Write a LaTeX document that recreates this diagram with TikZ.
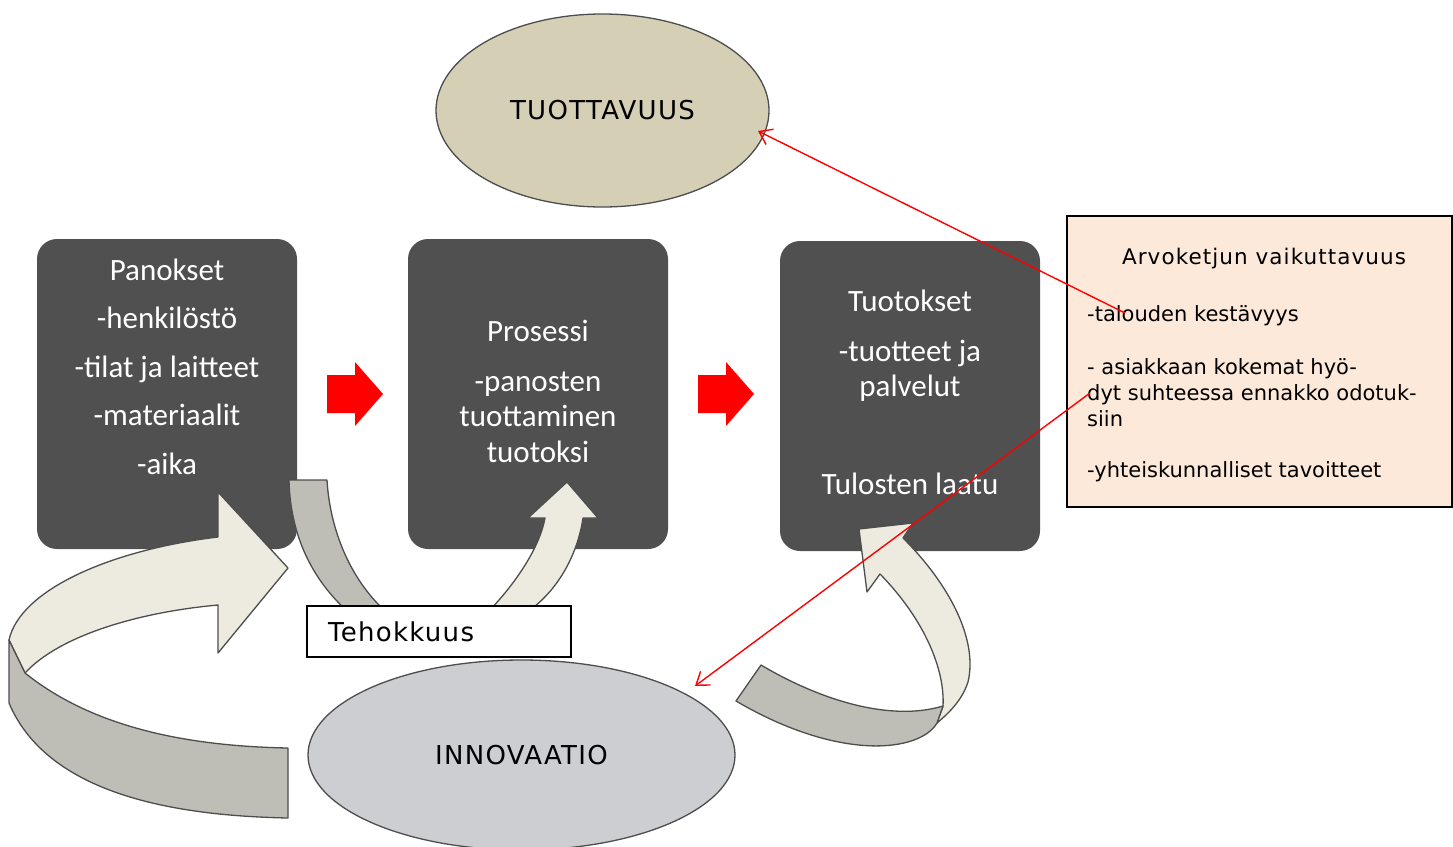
\documentclass[tikz,border=0pt]{standalone}
\usepackage{fontspec}
\setmainfont{DejaVu Sans}
\newfontfamily\boxfont{Carlito}
\newfontfamily\widefont[LetterSpace=5]{DejaVu Sans}
\usetikzlibrary{arrows.meta,shapes.geometric}

\definecolor{boxgrey}{HTML}{505050}
\definecolor{edgegrey}{HTML}{4D4D4D}
\definecolor{bandlight}{HTML}{EDEBE0}
\definecolor{banddark}{HTML}{BEBEB6}
\definecolor{tuotto}{HTML}{D5CFB6}
\definecolor{innov}{HTML}{CDCED1}
\definecolor{peach}{HTML}{FDE9D9}

\begin{document}
\begin{tikzpicture}[x=1pt,y=1pt,yscale=-1,
    darkbox/.style={fill=boxgrey,rounded corners=20pt,minimum width=260pt,minimum height=310pt,inner sep=0pt},
    boxtext/.style={text=white,align=center,inner sep=0pt,anchor=north},
    ovalnode/.style={ellipse,draw=edgegrey,line width=1.3pt,inner sep=0pt,font=\widefont\fontsize{26}{30}\selectfont},
    bandfront/.style={draw=edgegrey,line width=1.3pt,fill=bandlight,line join=round},
    bandback/.style={draw=edgegrey,line width=1.3pt,fill=banddark,line join=round},
    flowarrow/.style={fill=red},
    linkarrow/.style={red,line width=1.4pt,-{Straight Barb[length=12pt,width=17pt]}},
    listtext/.style={anchor=west,align=left,inner sep=0pt,font=\fontsize{21}{26}\selectfont}]
    \useasboundingbox (0,0) rectangle (1453,846);

    % Boxes
    \node[darkbox] (panokset) at (167,394) {};
    \node[darkbox] (prosessi) at (538,394) {};
    \node[darkbox] (tuotokset) at (910,396) {};

    % Text Node
    \node[boxtext,font=\boxfont\fontsize{31}{48.5}\selectfont] (panokset text) at (167,258.5)
        {Panokset\\-henkilöstö\\-tilat ja laitteet\\-materiaalit\\-aika};
    % Text Node
    \node[boxtext,font=\boxfont\fontsize{31}{35.5}\selectfont] (prosessi text) at (538,319.5)
        {Prosessi\\[14.5pt]-panosten\\tuottaminen\\tuotoksi};
    % Text Node
    \node[boxtext,font=\boxfont\fontsize{31}{35}\selectfont] (tuotokset text) at (910,289.5)
        {Tuotokset\\[15pt]-tuotteet ja\\palvelut\\[63pt]Tulosten laatu};

    % Ellipse
    \node[ovalnode,fill=tuotto,minimum width=333pt,minimum height=193pt] (tuottavuus) at (602.5,110.5) {TUOTTAVUUS};

    % Red block arrows
    \fill[flowarrow] (327,375) -- (355,375) -- (355,362) -- (383,394) -- (355,426) -- (355,413) -- (327,413) -- cycle;
    \fill[flowarrow] (698,375) -- (726,375) -- (726,362) -- (754,394) -- (726,426) -- (726,413) -- (698,413) -- cycle;

    % Big curved arrow, left
    \draw[bandfront] (218,537) -- (218,492) -- (288,568) -- (218,653) -- (218,605)
        .. controls (140,612) and (60,635) .. (25,673) -- (9,640)
        .. controls (20,590) and (110,550) .. (218,537) -- cycle;
    \draw[bandback] (9,640) -- (25,673) .. controls (90,725) and (180,746) .. (288,748)
        -- (288,818) .. controls (190,816) and (50,800) .. (9,703) -- cycle;

    % Curved arrow under Tehokkuus
    \draw[bandback] (289,480) -- (327,480) .. controls (330,530) and (350,578) .. (384,610)
        -- (346,610) .. controls (305,572) and (290,525) .. (289,480) -- cycle;
    \draw[bandfront] (490,610) .. controls (520,578) and (540,545) .. (545,518) -- (528,518)
        -- (567,482) -- (598,518) -- (583,518) .. controls (578,552) and (560,588) .. (530,610) -- cycle;

    % Curved arrow, right
    \draw[bandfront] (903,538) .. controls (950,585) and (978,640) .. (968,682)
        .. controls (962,700) and (950,712) .. (937,723) -- (943,706)
        .. controls (945,670) and (925,620) .. (880,574) -- (867,592) -- (859,529) -- (913,523) -- cycle;
    \draw[bandback] (736,701) -- (761,665) .. controls (820,700) and (890,722) .. (943,706)
        -- (937,723) .. controls (920,752) and (840,762) .. (736,701) -- cycle;

    % Tehokkuus
    \node[draw,line width=1.8pt,fill=white,text width=222pt,inner xsep=21pt,minimum height=51pt,
        align=left,font=\widefont\fontsize{26}{30}\selectfont] (tehokkuus) at (439,631.5) {Tehokkuus};

    % Ellipse
    \node[ovalnode,fill=innov,minimum width=427pt,minimum height=190pt] (innovaatio) at (521.5,755) {INNOVAATIO};

    % Right box
    \node[draw,line width=1.5pt,fill=peach,minimum width=385pt,minimum height=291pt,inner sep=0pt] (vaikuttavuus) at (1259.5,361.5) {};
    \node[font=\widefont\fontsize{21.5}{26}\selectfont,inner sep=0pt] (vaikuttavuus title) at (1264,259) {Arvoketjun vaikuttavuus};
    \node[listtext] (talous) at (1087,316) {-talouden kestävyys};
    \node[listtext] (asiakas) at (1087,393) {- asiakkaan kokemat hyö-\\dyt suhteessa ennakko odotuk-\\siin};
    \node[listtext] (yhteis) at (1087,472) {-yhteiskunnalliset tavoitteet};

    % Links
    \coordinate (tuottavuus tip) at (758,131);
    \coordinate (innovaatio tip) at (695,686);
    \draw[linkarrow] ([xshift=38pt,yshift=-3pt]talous.west) -- (tuottavuus tip);
    \draw[linkarrow] ([xshift=3pt]asiakas.west) -- (innovaatio tip);
\end{tikzpicture}
\end{document}
